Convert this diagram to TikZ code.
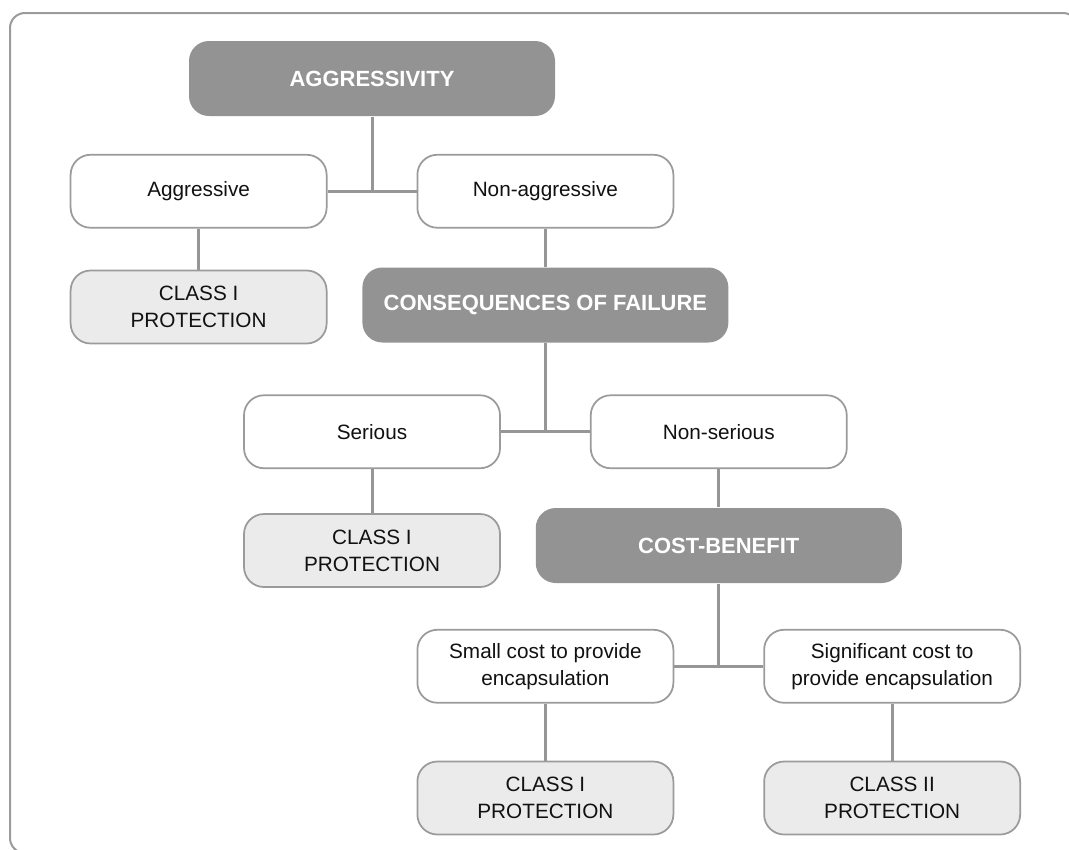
\documentclass[tikz,border=0pt]{standalone}
\usepackage{fontspec}
\setmainfont{Liberation Sans}
\usetikzlibrary{positioning}
\definecolor{headfill}{HTML}{939393}
\definecolor{classfill}{HTML}{EBEBEB}
\definecolor{rim}{HTML}{9B9B9B}
\definecolor{wire}{HTML}{969696}
\definecolor{ink}{HTML}{111111}
\tikzset{
  every node/.style={font=\fontsize{11.8}{15.4}\selectfont,text=ink},
  choice/.style={draw=rim,line width=0.35mm,rounded corners=4mm,fill=white,minimum width=51.2mm,minimum height=14.6mm,align=center,inner sep=2pt},
  classbox/.style={choice,fill=classfill},
  head/.style={choice,draw=none,fill=headfill,minimum width=73.2mm,minimum height=15mm,text=white,font=\fontsize{12.5}{15}\selectfont\bfseries},
  link/.style={draw=wire,line width=0.6mm},
  frame/.style={draw=rim,line width=0.4mm,rounded corners=3mm},
}

\begin{document}
\begin{tikzpicture}[x=1mm,y=1mm,node distance=8mm and 8.9mm]
\useasboundingbox (0,0) rectangle (213.8,-169.8);

\begin{scope}
\clip (0,0) rectangle (213.8,-169.8);
\draw[frame] (2,-2.6) rectangle (215.6,-170.6);
\end{scope}

\node[head] (agg) at (74.4,-15.7) {AGGRESSIVITY};
\node[choice,below left=7.4mm and 8.9mm of agg.south] (aggr) {Aggressive};
\node[choice,below right=7.4mm and 8.9mm of agg.south] (nonaggr) {Non-aggressive};
\node[classbox,below=8.2mm of aggr] (cls1a) {CLASS I\\PROTECTION};
\node[head,below=7.6mm of nonaggr] (cons) {CONSEQUENCES OF FAILURE};

\node[choice,below left=10.2mm and 8.9mm of cons.south] (serious) {Serious};
\node[choice,below right=10.2mm and 8.9mm of cons.south] (nonser) {Non-serious};
\node[classbox,below=8.8mm of serious] (cls1b) {CLASS I\\PROTECTION};
\node[head,below=7.6mm of nonser] (cb) {COST-BENEFIT};

\node[choice,below left=9mm and 8.9mm of cb.south] (small) {Small cost to provide\\encapsulation};
\node[choice,below right=9mm and 8.9mm of cb.south] (signif) {Significant cost to\\provide encapsulation};
\node[classbox,below=11.4mm of small] (cls1c) {CLASS I\\PROTECTION};
\node[classbox,below=11.4mm of signif] (cls2) {CLASS II\\PROTECTION};

% tree links
\draw[link] (aggr) -- (nonaggr);
\draw[link] (agg) -- (agg |- aggr.east);
\draw[link] (aggr) -- (cls1a);
\draw[link] (nonaggr) -- (cons);

\draw[link] (serious) -- (nonser);
\draw[link] (cons) -- (cons |- serious.east);
\draw[link] (serious) -- (cls1b);
\draw[link] (nonser) -- (cb);

\draw[link] (small) -- (signif);
\draw[link] (cb) -- (cb |- small.east);
\draw[link] (small) -- (cls1c);
\draw[link] (signif) -- (cls2);

\end{tikzpicture}
\end{document}
